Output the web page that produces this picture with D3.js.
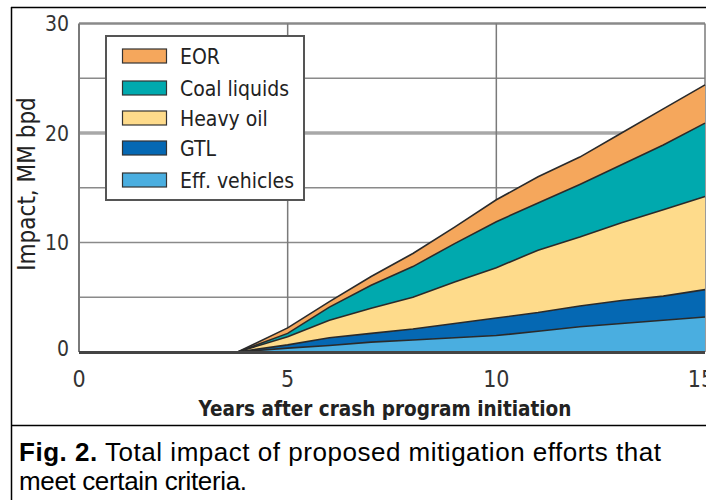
<!DOCTYPE html>
<html><head><meta charset="utf-8">
<script src="https://cdn.jsdelivr.net/npm/d3@7"></script>
<style>
html,body{margin:0;padding:0;background:#fff;overflow:hidden;}
</style></head>
<body>
<svg id="chart" width="706" height="500"></svg>
<script>
// ---- data ----
const years = [3.8, 5, 6, 7, 8, 9, 10, 11, 12, 13, 14, 15];
const effVehicles = [0, 0.35, 0.6, 0.9, 1.1, 1.3, 1.5, 1.9, 2.3, 2.6, 2.9, 3.2];
const gtl        = [0, 0.3, 0.7, 0.8, 1.0, 1.3, 1.6, 1.7, 1.9, 2.1, 2.2, 2.5];
const heavyOil   = [0, 0.75, 1.6, 2.3, 2.9, 3.8, 4.6, 5.7, 6.3, 7.1, 7.9, 8.5];
const coalLiquids= [0, 0.3, 1.2, 2.1, 2.8, 3.5, 4.2, 4.3, 4.8, 5.3, 5.9, 6.7];
const eor        = [0, 0.5, 0.5, 0.8, 1.2, 1.5, 2.0, 2.4, 2.5, 2.9, 3.3, 3.5];
const seriesKeys = ["Eff. vehicles", "GTL", "Heavy oil", "Coal liquids", "EOR"];
const seriesColors = ["#4aaee0", "#0568b3", "#fedb8b", "#00a9ae", "#f5a75c"];
const xTicks = [0, 5, 10, 15];
const yTicks = [0, 10, 20, 30];
const yGrid = [5, 10, 15, 20, 25, 30];
const xTitle = "Years after crash program initiation";
const yTitle = "Impact, MM bpd";
const captionBold = "Fig. 2.";
const captionLine1 = " Total impact of proposed mitigation efforts that";
const captionLine2 = "meet certain criteria.";

const seriesValues = [effVehicles, gtl, heavyOil, coalLiquids, eor];
const table = years.map((yr, i) => {
  const row = {year: yr};
  seriesKeys.forEach((k, j) => row[k] = seriesValues[j][i]);
  return row;
});

const svg = d3.select("#chart");
const cond = "'DejaVu Sans Condensed','DejaVu Sans',sans-serif";

// outer frame
svg.append("line").attr("x1", 11).attr("x2", 706).attr("y1", 7.5).attr("y2", 7.5).attr("stroke", "#000").attr("stroke-width", 1.5);
svg.append("line").attr("x1", 11.5).attr("x2", 11.5).attr("y1", 7).attr("y2", 500).attr("stroke", "#000").attr("stroke-width", 1.5);
svg.append("line").attr("x1", 11).attr("x2", 706).attr("y1", 425.5).attr("y2", 425.5).attr("stroke", "#000").attr("stroke-width", 1.5);

const x = d3.scaleLinear().domain([0, 15]).range([79, 705]);
const y = d3.scaleLinear().domain([0, 30]).range([352, 23.5]);

// grid
const g = svg.append("g");
g.selectAll(".hg").data(yGrid).join("line")
  .attr("x1", x(0)).attr("x2", x(15))
  .attr("y1", d => y(d)).attr("y2", d => y(d))
  .attr("stroke", d => d === 20 ? "#a8a8a8" : "#8a8a8a")
  .attr("stroke-width", d => d === 30 ? 2.5 : (d === 20 ? 3.5 : 1.5));
g.selectAll(".vg").data([0, 5, 10, 15]).join("line")
  .attr("x1", d => x(d)).attr("x2", d => x(d))
  .attr("y1", y(30)).attr("y2", y(0))
  .attr("stroke", "#7a7a7a").attr("stroke-width", d => d === 0 ? 2 : 1.5);

// stacked areas
const stack = d3.stack().keys(seriesKeys);
const layers = stack(table);
const area = d3.area().x(d => x(d.data.year)).y0(d => y(d[0])).y1(d => y(d[1]));
const topLine = d3.line().x(d => x(d.data.year)).y(d => y(d[1]));
svg.append("g").selectAll("path").data(layers).join("path")
  .attr("d", area).attr("fill", (d, i) => seriesColors[i]);
svg.append("g").selectAll("path").data(layers).join("path")
  .attr("d", topLine).attr("fill", "none").attr("stroke", "#2a2a2a").attr("stroke-width", 1.6);

// bottom axis line
svg.append("line").attr("x1", x(0)).attr("x2", x(15)).attr("y1", y(0) + 0.5).attr("y2", y(0) + 0.5)
  .attr("stroke", "#444").attr("stroke-width", 3);

// tick labels
svg.append("g").selectAll("text").data(yTicks).join("text")
  .attr("x", 69).attr("y", d => y(d)).attr("dy", d => d === 0 ? "0.2em" : "0.36em")
  .attr("text-anchor", "end").attr("font-family", cond).attr("font-size", 21).attr("fill", "#333")
  .text(d => d);
svg.append("g").selectAll("text").data(xTicks).join("text")
  .attr("x", d => x(d)).attr("dx", d => d === 15 ? -4 : 0).attr("y", 387)
  .attr("text-anchor", "middle").attr("font-family", cond).attr("font-size", 23).attr("fill", "#333")
  .text(d => d);

// axis titles
svg.append("text").attr("x", 385).attr("y", 416).attr("text-anchor", "middle")
  .attr("font-family", cond).attr("font-weight", "bold").attr("font-size", 20.5).attr("fill", "#222")
  .text(xTitle);
svg.append("text").attr("transform", "translate(35,184) rotate(-90)").attr("text-anchor", "middle")
  .attr("font-family", cond).attr("font-size", 24).attr("fill", "#222")
  .text(yTitle);

// legend
const lg = svg.append("g");
lg.append("rect").attr("x", 106).attr("y", 36).attr("width", 198).attr("height", 164)
  .attr("fill", "#fff").attr("stroke", "#555").attr("stroke-width", 2);
const legendOrder = seriesKeys.slice().reverse();
const legendRows = [56, 88, 118, 148, 180];
legendOrder.forEach((k, i) => {
  const ci = seriesKeys.indexOf(k);
  lg.append("rect").attr("x", 122.5).attr("y", legendRows[i] - 7).attr("width", 44).attr("height", 14)
    .attr("fill", seriesColors[ci]).attr("stroke", "#333").attr("stroke-width", 1.2);
  lg.append("text").attr("x", 180).attr("y", legendRows[i]).attr("dy", "0.36em")
    .attr("font-family", cond).attr("font-size", 21).attr("fill", "#222").text(k);
});

// caption
const cap = svg.append("text").attr("x", 19).attr("y", 461)
  .attr("textLength", 642).attr("lengthAdjust", "spacing")
  .attr("font-family", "'Liberation Sans',Arial,sans-serif").attr("font-size", 26).attr("fill", "#000");
cap.append("tspan").attr("font-weight", "bold").text(captionBold);
cap.append("tspan").text(captionLine1);
svg.append("text").attr("x", 19).attr("y", 490)
  .attr("textLength", 228).attr("lengthAdjust", "spacing")
  .attr("font-family", "'Liberation Sans',Arial,sans-serif").attr("font-size", 26).attr("fill", "#000")
  .text(captionLine2);
</script>
</body></html>
